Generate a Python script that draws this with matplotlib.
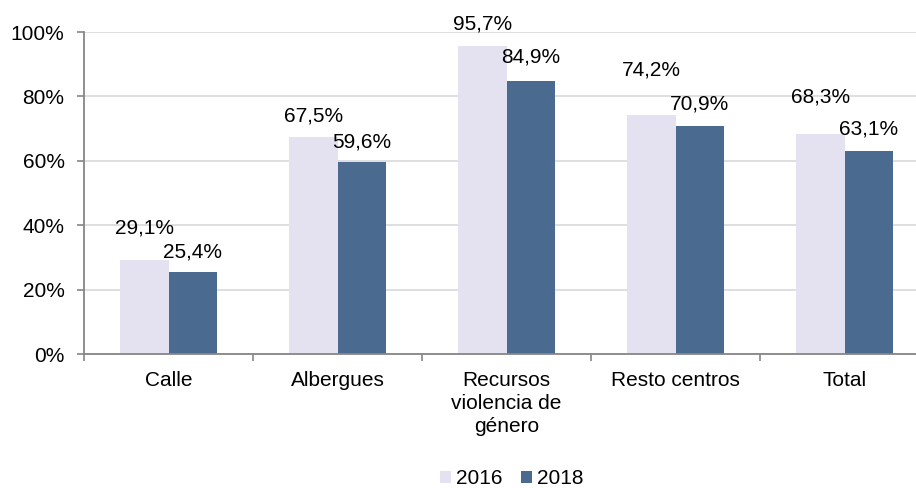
import matplotlib
matplotlib.use("Agg")
import matplotlib.pyplot as plt
import numpy as np
from matplotlib.patches import Patch

plt.rcParams['font.family'] = ['Liberation Sans', 'DejaVu Sans']

categories = ["Calle", "Albergues", "Recursos\nviolencia de\ngénero", "Resto centros", "Total"]
series_names = ["2016", "2018"]
values_2016 = [29.1, 67.5, 95.7, 74.2, 68.3]
values_2018 = [25.4, 59.6, 84.9, 70.9, 63.1]
labels_2016 = ["29,1%", "67,5%", "95,7%", "74,2%", "68,3%"]
labels_2018 = ["25,4%", "59,6%", "84,9%", "70,9%", "63,1%"]
yticks = [0, 20, 40, 60, 80, 100]
ytick_labels = ["0%", "20%", "40%", "60%", "80%", "100%"]

# label lift above bar top (pixels), as in the reference layout
lift_2016 = [27, 15, 16, 40, 32]
lift_2018 = [15, 15, 18, 16, 16]

c2016 = "#e4e2f0"
c2018 = "#4b6a8f"
axis_col = "#868686"
grid_col = "#d9d9d9"
fs = 15

W, H = 916, 488
fig = plt.figure(figsize=(W / 100, H / 100), dpi=100)
ax = fig.add_axes([84 / W, (H - 354) / H, 845 / W, 322 / H])

x = np.arange(len(categories))
bw = 0.285
b1 = ax.bar(x - bw / 2, values_2016, bw, color=c2016, zorder=2)
b2 = ax.bar(x + bw / 2, values_2018, bw, color=c2018, zorder=2)

px2pt = 72 / 100
for xi, v, lab, lf in zip(x - bw / 2, values_2016, labels_2016, lift_2016):
    ax.annotate(lab, (xi, v), xytext=(0, lf * px2pt), textcoords="offset points",
                ha="center", va="baseline", fontsize=fs, color="#000000")
for xi, v, lab, lf in zip(x + bw / 2, values_2018, labels_2018, lift_2018):
    ax.annotate(lab, (xi, v), xytext=(0, lf * px2pt), textcoords="offset points",
                ha="center", va="baseline", fontsize=fs, color="#000000")

ax.set_xlim(-0.5, len(categories) - 0.5)
ax.set_ylim(0, 100)
ax.set_yticks(yticks)
ax.set_yticklabels(ytick_labels, fontsize=fs)
ax.set_xticks(x)
ax.set_xticklabels(categories, fontsize=fs, linespacing=1.27, multialignment="center")
ax.set_xticks(np.arange(len(categories) + 1) - 0.5, minor=True)
ax.tick_params(axis="x", which="major", length=0, pad=12)
ax.tick_params(axis="x", which="minor", length=5, color=axis_col, width=1.2, direction="out")
ax.tick_params(axis="y", length=5, color=axis_col, width=1.2, direction="out", pad=9)

ax.grid(axis="y", color=grid_col, linewidth=1.2, zorder=0)
ax.set_axisbelow(True)
for s in ["top", "right"]:
    ax.spines[s].set_visible(False)
for s in ["left", "bottom"]:
    ax.spines[s].set_color(axis_col)
    ax.spines[s].set_linewidth(1.3)
    ax.spines[s].set_zorder(3)

handles = [Patch(facecolor=c2016), Patch(facecolor=c2018)]
fig.legend(handles, series_names, loc="center", bbox_to_anchor=(512 / W, 1 - 479 / H),
           ncol=2, frameon=False, fontsize=fs, handlelength=0.5, handleheight=0.5,
           handletextpad=0.25, columnspacing=0.9)

fig.savefig("out.png", dpi=100)
